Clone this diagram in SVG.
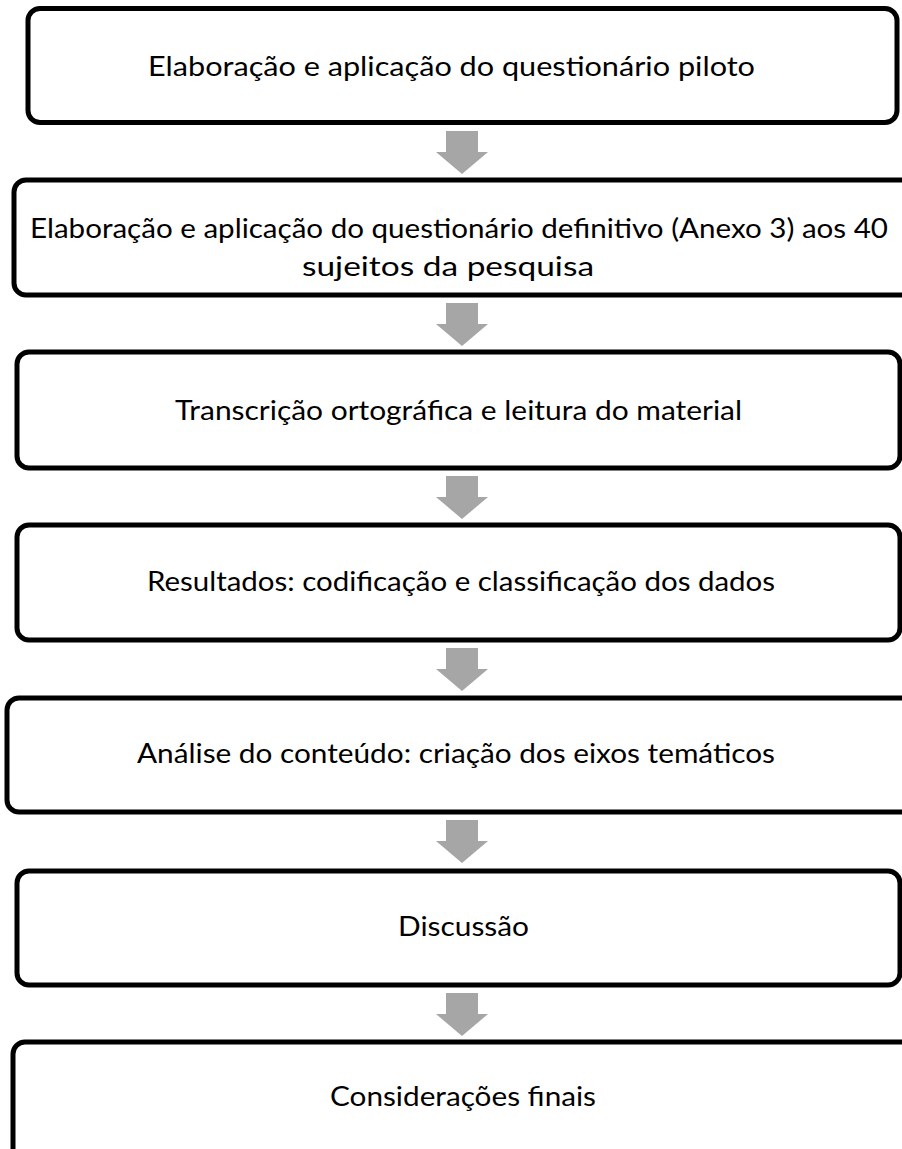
<svg xmlns="http://www.w3.org/2000/svg" width="902" height="1149" viewBox="0 0 902 1149">
<style>
.box{fill:#ffffff;stroke:#000000;stroke-width:5}
.t{font-family:Lato,"Liberation Sans",Arial,sans-serif;font-size:27px;fill:#000000}
.arr{fill:#a6a6a6}
</style>
<defs>
<path id="darrow" d="M-16,0 H16 V21 H26 L0,43 L-26,21 H-16 Z"/>
</defs>
<rect width="902" height="1149" fill="#ffffff"/>
<g id="connectors">
<use href="#darrow" class="arr" x="462" y="131"/>
<use href="#darrow" class="arr" x="462" y="303"/>
<use href="#darrow" class="arr" x="462" y="476"/>
<use href="#darrow" class="arr" x="462" y="648"/>
<use href="#darrow" class="arr" x="462" y="820"/>
<use href="#darrow" class="arr" x="462" y="993"/>
</g>
<g id="node1">
<rect class="box" x="28" y="8.5" width="869" height="114" rx="12"/>
<text class="t" x="148" y="76" textLength="607" lengthAdjust="spacingAndGlyphs">Elaboração e aplicação do questionário piloto</text>
</g>
<g id="node2">
<rect class="box" x="14" y="180" width="900" height="115" rx="12"/>
<text class="t" x="30" y="238" textLength="858" lengthAdjust="spacingAndGlyphs">Elaboração e aplicação do questionário definitivo (Anexo 3) aos 40</text>
<text class="t" x="302" y="276" textLength="292" lengthAdjust="spacingAndGlyphs">sujeitos da pesquisa</text>
</g>
<g id="node3">
<rect class="box" x="17" y="352" width="883" height="116" rx="12"/>
<text class="t" x="175" y="420" textLength="567" lengthAdjust="spacingAndGlyphs">Transcrição ortográfica e leitura do material</text>
</g>
<g id="node4">
<rect class="box" x="17" y="525" width="883" height="115" rx="12"/>
<text class="t" x="147" y="591" textLength="628" lengthAdjust="spacingAndGlyphs">Resultados: codificação e classificação dos dados</text>
</g>
<g id="node5">
<rect class="box" x="7" y="698" width="910" height="114" rx="12"/>
<text class="t" x="137" y="763" textLength="638" lengthAdjust="spacingAndGlyphs">Análise do conteúdo: criação dos eixos temáticos</text>
</g>
<g id="node6">
<rect class="box" x="17" y="871" width="883" height="114" rx="12"/>
<text class="t" x="398" y="936" textLength="131" lengthAdjust="spacingAndGlyphs">Discussão</text>
</g>
<g id="node7">
<rect class="box" x="13" y="1042" width="900" height="140" rx="12"/>
<text class="t" x="330" y="1106" textLength="266" lengthAdjust="spacingAndGlyphs">Considerações finais</text>
</g>
</svg>
